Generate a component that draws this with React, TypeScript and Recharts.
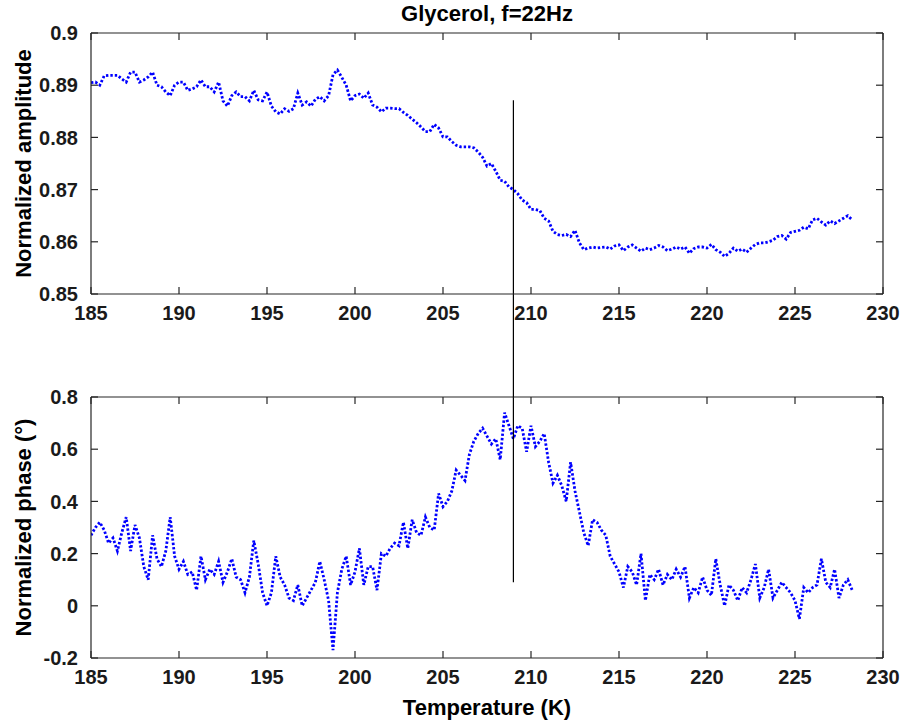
import React from 'react';
import { LineChart, Line, XAxis, YAxis, ReferenceLine } from 'recharts';

const temperature = [
  185, 185.25, 185.5, 185.75, 186, 186.25, 186.5, 186.75,
  187, 187.25, 187.5, 187.75, 188, 188.25, 188.5, 188.75,
  189, 189.25, 189.5, 189.75, 190, 190.25, 190.5, 190.75,
  191, 191.25, 191.5, 191.75, 192, 192.25, 192.5, 192.75,
  193, 193.25, 193.5, 193.75, 194, 194.25, 194.5, 194.75,
  195, 195.25, 195.5, 195.75, 196, 196.25, 196.5, 196.75,
  197, 197.25, 197.5, 197.75, 198, 198.25, 198.5, 198.75,
  199, 199.25, 199.5, 199.75, 200, 200.25, 200.5, 200.75,
  201, 201.25, 201.5, 201.75, 202, 202.25, 202.5, 202.75,
  203, 203.25, 203.5, 203.75, 204, 204.25, 204.5, 204.75,
  205, 205.25, 205.5, 205.75, 206, 206.25, 206.5, 206.75,
  207, 207.25, 207.5, 207.75, 208, 208.25, 208.5, 208.75,
  209, 209.25, 209.5, 209.75, 210, 210.25, 210.5, 210.75,
  211, 211.25, 211.5, 211.75, 212, 212.25, 212.5, 212.75,
  213, 213.25, 213.5, 213.75, 214, 214.25, 214.5, 214.75,
  215, 215.25, 215.5, 215.75, 216, 216.25, 216.5, 216.75,
  217, 217.25, 217.5, 217.75, 218, 218.25, 218.5, 218.75,
  219, 219.25, 219.5, 219.75, 220, 220.25, 220.5, 220.75,
  221, 221.25, 221.5, 221.75, 222, 222.25, 222.5, 222.75,
  223, 223.25, 223.5, 223.75, 224, 224.25, 224.5, 224.75,
  225, 225.25, 225.5, 225.75, 226, 226.25, 226.5, 226.75,
  227, 227.25, 227.5, 227.75, 228, 228.25,
];

const amplitude = [
  0.8905, 0.8906, 0.8900, 0.8918, 0.8919, 0.8919, 0.8919, 0.8912,
  0.8906, 0.8925, 0.8925, 0.8906, 0.8910, 0.8916, 0.8925, 0.8900,
  0.8897, 0.8887, 0.8880, 0.8900, 0.8906, 0.8906, 0.8890, 0.8893,
  0.8897, 0.8910, 0.8897, 0.8897, 0.8887, 0.8906, 0.8870, 0.8860,
  0.8880, 0.8887, 0.8878, 0.8878, 0.8870, 0.8890, 0.8872, 0.8870,
  0.8887, 0.8860, 0.8849, 0.8845, 0.8855, 0.8850, 0.8855, 0.8885,
  0.8862, 0.8868, 0.8860, 0.8873, 0.8878, 0.8870, 0.8880, 0.8920,
  0.8929, 0.8915, 0.8900, 0.8870, 0.8880, 0.8883, 0.8875, 0.8885,
  0.8862, 0.8858, 0.8849, 0.8856, 0.8856, 0.8855, 0.8855, 0.8848,
  0.8842, 0.8835, 0.8828, 0.8820, 0.8811, 0.8811, 0.8825, 0.8818,
  0.8801, 0.8801, 0.8792, 0.8785, 0.8782, 0.8782, 0.8782, 0.8780,
  0.8772, 0.8762, 0.8745, 0.8750, 0.8735, 0.8718, 0.8716, 0.8705,
  0.8700, 0.8692, 0.8680, 0.8675, 0.8662, 0.8662, 0.8660, 0.8645,
  0.8640, 0.8620, 0.8614, 0.8612, 0.8614, 0.8610, 0.8622, 0.8598,
  0.8585, 0.8588, 0.8590, 0.8588, 0.8589, 0.8590, 0.8586, 0.8592,
  0.8594, 0.8583, 0.8590, 0.8594, 0.8588, 0.8582, 0.8588, 0.8585,
  0.8588, 0.8593, 0.8590, 0.8583, 0.8586, 0.8590, 0.8586, 0.8590,
  0.8578, 0.8587, 0.8590, 0.8590, 0.8588, 0.8595, 0.8585, 0.8580,
  0.8572, 0.8578, 0.8588, 0.8582, 0.8586, 0.8580, 0.8588, 0.8595,
  0.8598, 0.8598, 0.8600, 0.8603, 0.8610, 0.8612, 0.8605, 0.8618,
  0.8620, 0.8622, 0.8628, 0.8625, 0.8642, 0.8645, 0.8638, 0.8632,
  0.8640, 0.8635, 0.8640, 0.8645, 0.8650, 0.8642,
];

const phase = [
  0.27, 0.30, 0.32, 0.29, 0.24, 0.26, 0.21, 0.28,
  0.34, 0.21, 0.31, 0.26, 0.15, 0.10, 0.27, 0.18,
  0.15, 0.21, 0.34, 0.19, 0.14, 0.17, 0.12, 0.13,
  0.06, 0.19, 0.10, 0.14, 0.12, 0.17, 0.09, 0.13,
  0.18, 0.11, 0.10, 0.05, 0.11, 0.25, 0.16, 0.05,
  0.00, 0.05, 0.19, 0.11, 0.08, 0.03, 0.02, 0.08,
  0.00, 0.03, 0.06, 0.09, 0.17, 0.10, 0.02, -0.17,
  0.05, 0.14, 0.19, 0.08, 0.13, 0.22, 0.08, 0.15,
  0.15, 0.06, 0.20, 0.19, 0.22, 0.24, 0.23, 0.32,
  0.22, 0.33, 0.28, 0.27, 0.34, 0.30, 0.29, 0.43,
  0.38, 0.40, 0.44, 0.52, 0.50, 0.48, 0.58, 0.63,
  0.66, 0.68, 0.65, 0.62, 0.64, 0.56, 0.74, 0.69,
  0.64, 0.69, 0.68, 0.59, 0.69, 0.61, 0.63, 0.66,
  0.55, 0.47, 0.50, 0.46, 0.40, 0.55, 0.44, 0.36,
  0.28, 0.23, 0.33, 0.32, 0.29, 0.27, 0.19, 0.16,
  0.13, 0.07, 0.15, 0.13, 0.08, 0.20, 0.02, 0.12,
  0.10, 0.14, 0.08, 0.12, 0.10, 0.14, 0.11, 0.15,
  0.03, 0.07, 0.05, 0.11, 0.06, 0.04, 0.18, 0.08,
  0.00, 0.08, 0.06, 0.02, 0.07, 0.05, 0.10, 0.16,
  0.03, 0.07, 0.14, 0.03, 0.06, 0.09, 0.07, 0.05,
  0.02, -0.05, 0.07, 0.05, 0.07, 0.08, 0.18, 0.09,
  0.07, 0.14, 0.03, 0.08, 0.10, 0.06,
];

const xTicks = [185, 190, 195, 200, 205, 210, 215, 220, 225, 230];
const ampTicks = [0.85, 0.86, 0.87, 0.88, 0.89, 0.9];
const phaseTicks = [-0.2, 0, 0.2, 0.4, 0.6, 0.8];

// vertical marker line
const markerT = 209;
const markerAmpTop = 0.8871;
const markerAmpBottom = 0.8302; // continues through the gap down to the lower axes
const markerPhaseTop = 0.8;
const markerPhaseBottom = 0.09;

const title = 'Glycerol, f=22Hz';
const ampLabel = 'Normalized amplitude';
const phaseLabel = 'Normalized phase (°)';
const xLabel = 'Temperature (K)';

const ampData = temperature.map((t, i) => ({ t, v: amplitude[i] }));
const phaseData = temperature.map((t, i) => ({ t, v: phase[i] }));

const AXIS = '#262626';
const FONT = '"Liberation Sans", Arial, Helvetica, sans-serif';
const TICK_LEN = 7;
const X_MARGIN = 11;
const Y_MARGIN = 13;

const BottomTick = (p: any) => {
  const axisY = p.y - X_MARGIN;
  return (
    <g>
      <line x1={p.x} x2={p.x} y1={axisY} y2={axisY - TICK_LEN} stroke={AXIS} strokeWidth={1.2} />
      <text x={p.x} y={p.y} dy="0.75em" textAnchor="middle" fontSize={20} fontWeight="bold" fill="#1a1a1a">
        {String(p.payload.value)}
      </text>
    </g>
  );
};

const TopTick = (p: any) => (
  <line x1={p.x} x2={p.x} y1={p.y} y2={p.y + TICK_LEN} stroke={AXIS} strokeWidth={1.2} />
);

const LeftTick = (p: any) => {
  const axisX = p.x + Y_MARGIN;
  return (
    <g>
      <line x1={axisX} x2={axisX + TICK_LEN} y1={p.y} y2={p.y} stroke={AXIS} strokeWidth={1.2} />
      <text x={p.x} y={p.y} dy="0.36em" textAnchor="end" fontSize={20} fontWeight="bold" fill="#1a1a1a">
        {String(p.payload.value)}
      </text>
    </g>
  );
};

const RightTick = (p: any) => (
  <line x1={p.x} x2={p.x - TICK_LEN} y1={p.y} y2={p.y} stroke={AXIS} strokeWidth={1.2} />
);

function Panel(props: {
  data: { t: number; v: number }[];
  height: number;
  topH: number;
  bottomMargin: number;
  domain: [number, number];
  yTicks: number[];
  seg: [number, number];
}) {
  const { data, height, topH, bottomMargin, domain, yTicks, seg } = props;
  return (
    <LineChart
      width={902}
      height={height}
      data={data}
      margin={{ top: 0, right: 0, bottom: bottomMargin, left: 0 }}
    >
      <XAxis
        xAxisId={0}
        dataKey="t"
        type="number"
        domain={[185, 230]}
        ticks={xTicks}
        allowDataOverflow
        height={40}
        stroke={AXIS}
        strokeWidth={1.2}
        tickLine={false}
        tickSize={0}
        tickMargin={X_MARGIN}
        tick={BottomTick}
        interval={0}
      />
      <XAxis
        xAxisId="top"
        orientation="top"
        dataKey="t"
        type="number"
        domain={[185, 230]}
        ticks={xTicks}
        allowDataOverflow
        height={topH}
        stroke={AXIS}
        strokeWidth={1.2}
        tickLine={false}
        tickSize={0}
        tickMargin={0}
        tick={TopTick}
        interval={0}
      />
      <YAxis
        yAxisId={0}
        type="number"
        domain={domain}
        ticks={yTicks}
        allowDataOverflow
        width={91}
        stroke={AXIS}
        strokeWidth={1.2}
        tickLine={false}
        tickSize={0}
        tickMargin={Y_MARGIN}
        tick={LeftTick}
        interval={0}
      />
      <YAxis
        yAxisId="right"
        orientation="right"
        type="number"
        domain={domain}
        ticks={yTicks}
        allowDataOverflow
        width={19}
        stroke={AXIS}
        strokeWidth={1.2}
        tickLine={false}
        tickSize={0}
        tickMargin={0}
        tick={RightTick}
        interval={0}
      />
      <Line
        xAxisId={0}
        yAxisId={0}
        type="linear"
        dataKey="v"
        stroke="#0000ff"
        strokeWidth={2.8}
        strokeDasharray="2.4 2"
        dot={false}
        isAnimationActive={false}
      />
      <ReferenceLine
        xAxisId={0}
        yAxisId={0}
        segment={[
          { x: markerT, y: seg[0] },
          { x: markerT, y: seg[1] },
        ]}
        stroke="#000000"
        strokeWidth={1.2}
        ifOverflow="visible"
      />
    </LineChart>
  );
}

export default function App() {
  return (
    <div
      style={{
        position: 'absolute',
        left: 0,
        top: 0,
        width: 902,
        height: 726,
        background: '#ffffff',
        fontFamily: FONT,
        overflow: 'hidden',
      }}
    >
      <div style={{ position: 'absolute', left: 0, top: 360 }}>
        <Panel
          data={phaseData}
          height={366}
          topH={37}
          bottomMargin={28}
          domain={[-0.2, 0.8]}
          yTicks={phaseTicks}
          seg={[markerPhaseTop, markerPhaseBottom]}
        />
      </div>
      <div style={{ position: 'absolute', left: 0, top: 0 }}>
        <Panel
          data={ampData}
          height={400}
          topH={33}
          bottomMargin={66}
          domain={[0.85, 0.9]}
          yTicks={ampTicks}
          seg={[markerAmpTop, markerAmpBottom]}
        />
      </div>
      <svg
        width={902}
        height={726}
        style={{ position: 'absolute', left: 0, top: 0, pointerEvents: 'none' }}
      >
        <text x={487} y={21} textAnchor="middle" fontSize={22} fontWeight="bold" fill="#000">
          {title}
        </text>
        <text
          x={0}
          y={0}
          transform={`translate(31,163.5) rotate(-90)`}
          textAnchor="middle"
          fontSize={22}
          fontWeight="bold"
          fill="#000"
        >
          {ampLabel}
        </text>
        <text
          x={0}
          y={0}
          transform={`translate(31,527.5) rotate(-90)`}
          textAnchor="middle"
          fontSize={22}
          fontWeight="bold"
          fill="#000"
        >
          {phaseLabel}
        </text>
        <text x={487} y={715} textAnchor="middle" fontSize={22} fontWeight="bold" fill="#000">
          {xLabel}
        </text>
      </svg>
    </div>
  );
}
